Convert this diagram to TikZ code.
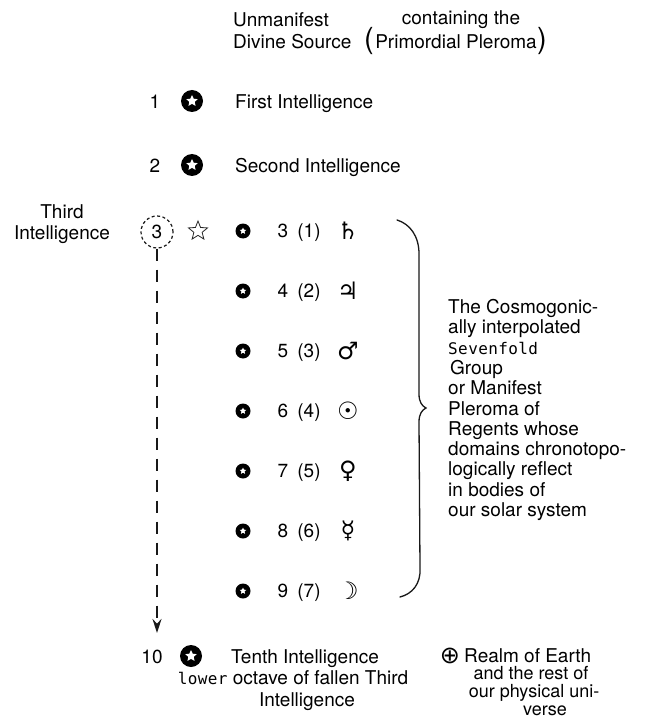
\documentclass[tikz,border=0pt]{standalone}
\usepackage{fontspec}
\setmainfont{TeX Gyre Heros}
\newfontfamily\symfnt{DejaVu Sans}
\newfontfamily\typfnt{DejaVu Sans Mono}
\usetikzlibrary{shapes.geometric,arrows.meta}
\newcommand\lspc{\kern0.4pt}
\newcommand\typset{\typfnt\fontsize{16}{16}\selectfont}
\begin{document}
\begin{tikzpicture}[x=1pt,y=-1pt,
  txt/.style={font=\fontsize{19}{20.3}\selectfont, inner sep=0pt, text=black},
  etxt/.style={font=\fontsize{18}{18}\selectfont, inner sep=0pt, text=black},
  sym/.style={font=\symfnt\fontsize{24}{24}\selectfont, inner sep=0pt, text=black},
  paren/.style={font=\fontsize{29}{29}\selectfont, inner sep=0pt, text=black},
  bigdisc/.style={circle, fill=black, minimum size=22pt, inner sep=0pt},
  smalldisc/.style={circle, fill=black, minimum size=15pt, inner sep=0pt},
  wstar/.style={star, star points=5, star point ratio=2.1, fill=white, inner sep=0pt},
  ostar/.style={star, star points=5, star point ratio=2.3, draw=black!85, line width=0.8pt, inner sep=0pt, minimum size=20pt},
  dcirc/.style={circle, draw=black!90, line width=1.2pt, dash pattern=on 3pt off 2.5pt, minimum size=32pt, inner sep=0pt},
  fallline/.style={draw=black!90, line width=1.6pt, dash pattern=on 12pt off 9pt, -{Stealth[length=14pt,width=9pt]}},
  bracepath/.style={draw=black!90, line width=1.3pt, line cap=round}
]
\useasboundingbox (0,0) rectangle (649,719);

% top
\node[txt, anchor=base west] (um) at (233,26.5) {Unmanifest};
\node[txt, anchor=base west] (ds) at (233,48.5) {Divine Source};
\node[txt, anchor=base] (ct) at (461,25) {containing the};
\node[txt, anchor=base] (pp) at (456,48.5) {Primordial Pleroma};
\node[paren] (lp) at (369,41) {(};
\node[paren] (rp) at (542,41) {)};

% first and second
\node[txt, anchor=base] (n1) at (155,108.5) {1};
\node[bigdisc] (i1) at (192,101) {};
\node[wstar, minimum size=12pt] (s1) at (i1) {};
\node[txt, anchor=base west] (t1) at (235,108.5) {First Intelligence};

\node[txt, anchor=base] (n2) at (155,172.5) {2};
\node[bigdisc] (i2) at (192,165) {};
\node[wstar, minimum size=12pt] (s2) at (i2) {};
\node[txt, anchor=base west] (t2) at (235,172.5) {Second Intelligence};

% third
\node[txt, anchor=base] (th1) at (62,218.5) {Third};
\node[txt, anchor=base] (th2) at (62,239.5) {Intelligence};
\node[dcirc, txt] (c3) at (157,232) {3};
\node[ostar] (os) at (198,231) {};

% seven regents
\foreach \yy/\a/\b/\s [count=\i] in {231/3/1/♄, 291/4/2/♃, 351/5/3/♂, 411/6/4/☉, 471/7/5/♀, 531/8/6/☿, 591/9/7/☽} {
  \node[smalldisc] (d\i) at (243,\yy) {};
  \node[wstar, minimum size=7pt] (ds\i) at (d\i) {};
  \node[txt, anchor=base] (a\i) at (283,\yy+6.5) {\a};
  \node[txt, anchor=base] (b\i) at (309,\yy+6.5) {(\b)};
  \node[sym] (p\i) at (348,\yy) {\s};
}

% brace
\draw[bracepath] (397,220) .. controls (410,224) and (419,236) .. (419,254)
  -- (419,394) .. controls (419,402) and (422,406) .. (426,408)
  .. controls (422,410) and (419,414) .. (419,422)
  -- (420,568) .. controls (421,584) and (412,594) .. (400,597);

% text block
\foreach \ln [count=\j] in {The Cosmogonic-, ally interpolated,
  {{\typset S\lspc e\lspc v\lspc e\lspc n\lspc f\lspc o\lspc l\lspc d}},
  \kern2pt Group, or Manifest, Pleroma of, Regents whose, domains chronotopo-,
  logically reflect, in bodies of, our solar system} {
  \node[txt, anchor=base west] (bl\j) at (448,313.5+20.3*\j-20.3) {\ln};
}

% falling arrow
\coordinate (tip) at (157,633);
\draw[fallline] (c3.south) -- (tip);

% tenth
\node[txt, anchor=base] (n10) at (152,663.5) {10};
\node[bigdisc] (i10) at (191,656) {};
\node[wstar, minimum size=12pt] (s10) at (i10) {};
\node[txt, anchor=base] (t10a) at (305,663.5) {Tenth Intelligence};
\node[txt, anchor=base] (t10b) at (293,684.5) {{\typset l\lspc o\lspc w\lspc e\lspc r}\ octave of fallen Third};
\node[txt, anchor=base] (t10c) at (307,706) {Intelligence};

% earth
\node[sym] (earth) at (450,655.5) {⊕};
\node[txt, anchor=base west] (e1) at (464,662) {Realm of Earth};
\node[etxt, anchor=base] (e2) at (531,679.5) {and the rest of};
\node[etxt, anchor=base] (e3) at (534,697.5) {our physical uni-};
\node[etxt, anchor=base] (e4) at (545,715.5) {verse};
\end{tikzpicture}
\end{document}
